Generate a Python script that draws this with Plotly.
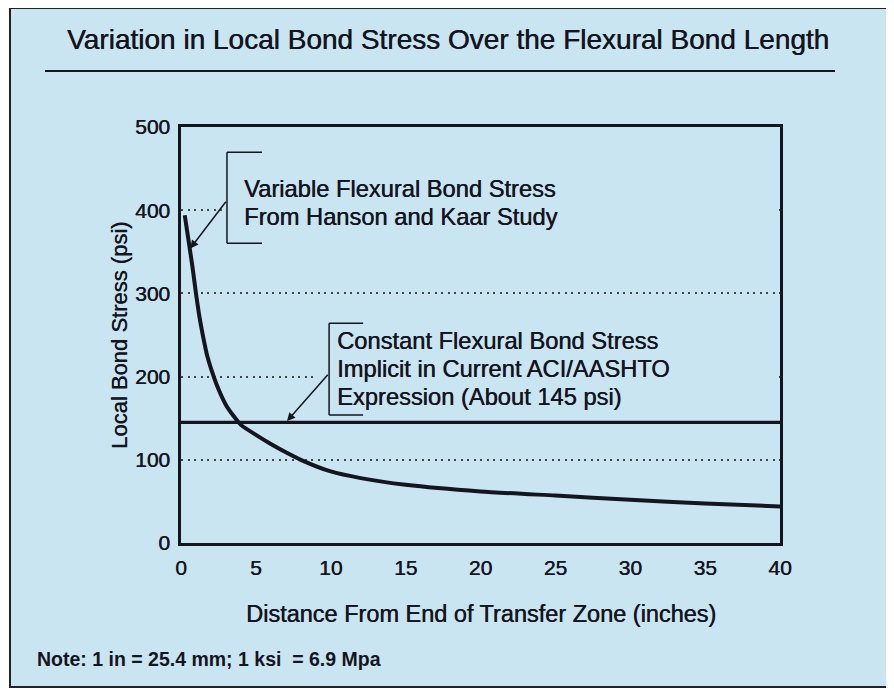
import plotly.graph_objects as go

# ---------------- data ----------------
distance_in = [0.25, 0.5, 0.75, 1, 1.25, 1.5, 1.75, 2, 2.5, 3, 3.5, 4, 5, 6, 7, 8,
               10, 12, 15, 20, 25, 30, 35, 40]
variable_stress = [394, 364, 334, 300, 270, 246, 225, 210, 185, 166, 153, 142, 130,
                   119, 109, 100, 86, 78, 70, 62, 57, 52, 47.5, 44]
constant_x = [0, 40]
constant_stress = [145, 145]

x_ticks = [0, 5, 10, 15, 20, 25, 30, 35, 40]
y_ticks = [0, 100, 200, 300, 400, 500]

title_text = "Variation in Local Bond Stress Over the Flexural Bond Length"
x_title = "Distance From End of Transfer Zone (inches)"
y_title = "Local Bond Stress (psi)"
note_text = "Note: 1 in = 25.4 mm; 1 ksi&nbsp;&nbsp;= 6.9 Mpa"
label_variable = ["Variable Flexural Bond Stress", "From Hanson and Kaar Study"]
label_constant = ["Constant Flexural Bond Stress",
                  "Implicit in Current ACI/AASHTO",
                  "Expression (About 145 psi)"]

# ---------------- style / layout ----------------
OFF = 8                      # page body margin in the browser
W, H = 894 - OFF, 688 - OFF
L, R, T, B = 181 - OFF, 114, 127 - OFF, 145
BG = "#c9e5f1"
INK = "#15151f"
FONT = "Liberation Sans, Arial, Helvetica, sans-serif"
SHADOW = "0.45px 0px 0px #15151f"


def px(xp):
    return (xp - OFF - L) / (W - L - R)


def py(yp):
    return (H - B - (yp - OFF)) / (H - T - B)


fig = go.Figure()

fig.add_trace(go.Scatter(x=constant_x, y=constant_stress, mode="lines",
                         line=dict(color=INK, width=3.2), hoverinfo="skip"))
fig.add_trace(go.Scatter(x=distance_in, y=variable_stress, mode="lines",
                         line=dict(color=INK, width=4, shape="spline", smoothing=0.6),
                         hoverinfo="skip"))

shapes = []
# outer frame
shapes.append(dict(type="rect", xref="paper", yref="paper",
                   x0=px(10), x1=px(888), y0=py(8), y1=py(687),
                   fillcolor=BG, line=dict(color="#222", width=2), layer="below"))
# title rule
shapes.append(dict(type="line", xref="paper", yref="paper",
                   x0=px(45), x1=px(835), y0=py(71), y1=py(71),
                   line=dict(color=INK, width=2.2)))
# masks hiding gridlines behind text blocks
shapes.append(dict(type="rect", xref="x", yref="y", x0=2.73, x1=39.85, y0=390, y1=410,
                   fillcolor=BG, line=dict(width=0), layer="above"))
shapes.append(dict(type="rect", xref="x", yref="y", x0=8.82, x1=39.85, y0=190, y1=210,
                   fillcolor=BG, line=dict(width=0), layer="above"))


def bracket(xv, xh, ytop, ybot):
    ln = dict(color=INK, width=1.5)
    return [
        dict(type="line", xref="x", yref="y", x0=xv, x1=xv, y0=ybot, y1=ytop, line=ln),
        dict(type="line", xref="x", yref="y", x0=xv, x1=xh, y0=ytop, y1=ytop, line=ln),
        dict(type="line", xref="x", yref="y", x0=xv, x1=xh, y0=ybot, y1=ybot, line=ln),
    ]


shapes += bracket(3.07, 5.41, 469.7, 360.4)
shapes += bracket(9.89, 12.16, 264, 153.8)

annotations = []
annotations.append(dict(xref="paper", yref="paper", x=px(448), y=py(40),
                        text=title_text, showarrow=False, xanchor="center", yanchor="middle",
                        font=dict(family=FONT, size=28, color=INK, shadow=SHADOW)))
annotations.append(dict(xref="paper", yref="paper", x=px(481), y=py(614),
                        text=x_title, showarrow=False, xanchor="center", yanchor="middle",
                        font=dict(family=FONT, size=23.5, color=INK, shadow=SHADOW)))
annotations.append(dict(xref="paper", yref="paper", x=px(119), y=py(336),
                        text=y_title, showarrow=False, textangle=-90,
                        xanchor="center", yanchor="middle",
                        font=dict(family=FONT, size=22, color=INK, shadow=SHADOW)))
annotations.append(dict(xref="paper", yref="paper", x=px(35), y=py(659),
                        text="<b>" + note_text + "</b>", showarrow=False,
                        xanchor="left", yanchor="middle",
                        font=dict(family=FONT, size=19.5, color=INK)))

for i, line in enumerate(label_variable):
    annotations.append(dict(xref="paper", yref="paper", x=px(242), y=py(189 + 28 * i),
                            text=line, showarrow=False, xanchor="left", yanchor="middle",
                            font=dict(family=FONT, size=23.7, color=INK, shadow=SHADOW)))
for i, line in enumerate(label_constant):
    annotations.append(dict(xref="paper", yref="paper", x=px(335), y=py(341 + 28 * i),
                            text=line, showarrow=False, xanchor="left", yanchor="middle",
                            font=dict(family=FONT, size=23.7, color=INK, shadow=SHADOW)))

# arrows
annotations.append(dict(x=0.62, y=354, ax=3.07, ay=412, xref="x", yref="y",
                        axref="x", ayref="y", text="", showarrow=True,
                        arrowhead=2, arrowsize=1.1, arrowwidth=1.5, arrowcolor=INK))
annotations.append(dict(x=7.08, y=146.5, ax=9.89, ay=204, xref="x", yref="y",
                        axref="x", ayref="y", text="", showarrow=True,
                        arrowhead=2, arrowsize=1.1, arrowwidth=1.5, arrowcolor=INK))

fig.update_layout(
    width=W, height=H,
    margin=dict(l=L, r=R, t=T, b=B, pad=0),
    paper_bgcolor="white", plot_bgcolor="rgba(0,0,0,0)",
    showlegend=False,
    shapes=shapes, annotations=annotations,
    font=dict(family=FONT, color=INK),
    xaxis=dict(range=[0, 40], tickvals=x_ticks, ticks="", showgrid=False, zeroline=False,
               showline=True, mirror=True, linecolor=INK, linewidth=2.5,
               tickfont=dict(family=FONT, size=21, color=INK, shadow=SHADOW),
               ticklabelstandoff=4, fixedrange=True),
    yaxis=dict(range=[0, 500], tickvals=y_ticks, ticks="", showgrid=True,
               gridcolor="#444", gridwidth=1.5, griddash="2px,4.5px", zeroline=False,
               showline=True, mirror=True, linecolor=INK, linewidth=2.5,
               tickfont=dict(family=FONT, size=21, color=INK, shadow=SHADOW),
               ticklabelstandoff=4, fixedrange=True),
)

fig.write_html("out.html")
